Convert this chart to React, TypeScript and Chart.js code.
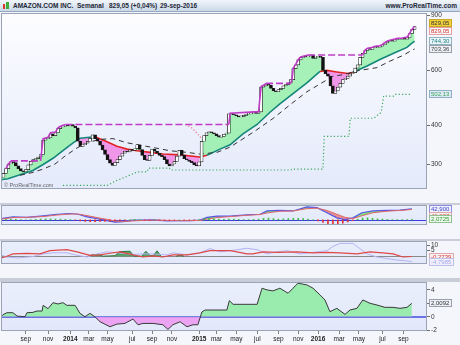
import React, { useEffect, useRef } from "react";
import { Chart, registerables } from "chart.js";

Chart.register(...registerables);
Chart.defaults.font.family = "'Liberation Sans', Arial, sans-serif";

// ---------- weekly closes (Jul 2013 .. 29 Sep 2016) ----------
const closes = [
  272, 280, 290, 300, 305, 303, 296, 290, 285, 283,
  288, 298, 306, 310, 312, 316, 322, 358, 362, 364,
  375, 370, 378, 390, 395, 397, 400, 398, 402, 397,
  392, 355, 342, 346, 350, 355, 363, 372, 362, 355,
  345, 333, 322, 310, 302, 297, 303, 310, 318, 325,
  330, 328, 333, 332, 336, 346, 334, 320, 310, 308,
  320, 335, 330, 325, 320, 317, 310, 300, 296, 300,
  306, 318, 332, 320, 312, 309, 306, 303, 298, 296,
  305, 355, 370, 378, 380, 378, 375, 370, 366, 368,
  374, 377, 435, 434, 432, 428, 425, 426, 430, 434,
  435, 438, 440, 436, 441, 530, 535, 542, 538, 525,
  516, 512, 520, 525, 535, 540, 547, 560, 608, 625,
  648, 660, 664, 662, 668, 670, 655, 662, 664, 660,
  600, 585, 575, 535, 506, 515, 530, 545, 560, 565,
  575, 585, 590, 610, 625, 660, 680, 695, 705, 700,
  710, 715, 712, 718, 725, 735, 744, 748, 745, 754,
  758, 755, 760, 756, 765, 788, 812, 829,
];

// moving average (teal above / red below)
const maX = [0, 2.8, 8.9, 12.9, 17, 21, 25, 29.1, 31.9, 34.7, 37.9, 42.8, 46.8, 50.9, 54.9, 60.2, 65.4, 72.3, 80.3, 83.2, 88.4, 92.5, 97.7, 103.4, 108.6, 112.6, 117.9, 123.5, 128.8, 131.6, 135.6, 140.1, 142.1, 147.8, 153, 158.3, 163.9, 166.3, 167];
const maY = [267, 269, 279, 286, 299, 313, 331, 351, 363, 365, 367, 354, 342, 335, 331, 327, 323, 321, 316, 320, 335, 346, 375, 402, 440, 468, 505, 547, 595, 600, 593, 586, 592, 620, 650, 680, 711, 738, 744];
const maRedRanges = [[37.9, 83], [128.8, 141]];

// slower average (black dashed)
const slowX = [7.7, 12.9, 17, 21.8, 25.8, 30.7, 35.1, 40, 45.2, 50.9, 61.4, 68.2, 75.1, 80.3, 87.2, 92.5, 101.7, 109.8, 116.7, 123.5, 134, 138.1, 144.9, 151.8, 157, 162.3, 165.9, 167];
const slowY = [276, 282, 289, 300, 318, 338, 352, 360, 362, 351, 339, 331, 327, 323, 327, 340, 379, 420, 465, 512, 574, 581, 600, 612, 642, 670, 696, 703];

// trailing stop (green dotted)
const stopX = [25, 43, 46, 50, 55, 59, 59.5, 68, 68.5, 117, 117.5, 130, 130.5, 140.5, 141, 150.5, 153.5, 154.5, 158.5, 159, 166];
const stopY = [256, 256, 264, 272, 283, 283, 291, 291, 287, 287, 289, 289, 368, 368, 421, 421, 440, 496, 496, 502, 502];

// red dotted segment
const redDotX = [74.5, 77, 79, 81];
const redDotY = [402, 392, 378, 362];

// highest-high line (magenta)
const highX = [2, 3, 4, 16, 17, 18, 19, 20, 22, 23, 24, 26, 92, 92.5, 104, 105, 106, 107, 117, 117.5, 118, 119, 120, 121, 122, 124, 146, 146.5, 147, 148, 150, 151, 153, 154, 155, 156, 157, 159, 160, 162, 164, 165, 166, 167];
const highY = [290, 300, 307, 307, 362, 364, 366, 378, 380, 392, 397, 402, 402, 437, 442, 532, 537, 545, 545, 562, 610, 627, 650, 662, 666, 672, 672, 682, 697, 707, 712, 717, 720, 727, 737, 746, 750, 756, 760, 762, 767, 790, 814, 832];

// MACD panel
const macdX = [0, 4.8, 10.5, 17, 22.6, 27.9, 31.1, 34.7, 38.8, 42.8, 46, 49.3, 53.3, 57.3, 61.4, 67, 71.1, 76.3, 80.3, 83.2, 87.2, 92.5, 99.3, 104.6, 107.4, 112.6, 117.9, 123.5, 127.6, 131.6, 135.6, 138.9, 142.1, 145.7, 150.2, 155.8, 161.1, 165.9];
const macdV = [4.6, 12, 10, 16, 22, 25, 22, 12, 4.6, -3, -9, -7, -1, -1, 0, -4, -3, -3, -1, 10, 14.5, 15, 20, 22, 35, 37.5, 35, 51, 48, 28, 8, 1, 8, 28, 35, 37, 38, 42.9];
const signalV = [3, 9, 10, 13, 19, 23, 23, 17, 9, 2, -4, -6, -4, -2, -1, -2, -3, -3, -2, 3, 9, 13, 18, 21, 27, 34, 35, 44, 46, 37, 22, 10, 5, 16, 28, 34, 37, 40.8];
const HIST_STEP = 2; // one bar every two weeks
const histV = [
  1, 2, 3, 2, 1, 0, 1, 2, 3, 4,
  4, 3, 3, 2, 1, -1, -4, -6, -7, -7,
  -6, -6, -5, -4, -2, -1, 1, 2, 1, -1,
  -1, 0, -1, -2, -2, -1, 0, -1, -1, -1,
  1, 4, 5, 4, 3, 2, 3, 3, 2, 1,
  1, 2, 3, 6, 7, 5, 3, 4, 5, 6,
  6, 5, 3, 0, -4, -10, -15, -19, -17, -13,
  -8, -3, 3, 7, 8, 6, 4, 3, 2, 1,
  1, 1, 1, 2,
];

// third panel
const redX = [0, 1.6, 4.8, 10.5, 15.7, 19.8, 26.6, 30.7, 35.9, 40, 44, 48, 53.3, 57.3, 61.4, 65.4, 69.4, 75.1, 80.3, 84.4, 92.5, 95.3, 99.3, 101.7, 105.8, 111.4, 119.5, 126, 131.6, 136.9, 143.7, 149, 154.2, 158.3, 162.3, 165.9];
const redV = [-1.6, -0.7, 2.1, 2.5, 2.1, 5, 5.9, 4, 0.8, 1.2, 2.7, 4, 1.2, -0.7, 0.3, -0.7, 1.2, 1.2, 3.1, 5, 5, 4, 2.1, 2.1, 4, 3.5, 4, 3, 3.5, 3, 2.1, 4, 3, 2.1, -0.7, -0.27];
const lavX = [0, 2.4, 6.5, 12.9, 17, 21, 26.6, 30.7, 34.7, 38.8, 42.8, 46.8, 53.3, 57.3, 61.4, 67, 69.4, 75.1, 80.3, 84.4, 88.4, 92.5, 95.3, 99.3, 103.4, 107.4, 111.4, 115.5, 120.7, 126, 131.6, 134, 136.9, 142.1, 144.9, 147.8, 151.8, 155.8, 159.9, 163.9, 165.9];
const lavV = [1.2, -0.7, -1.6, -0.3, 2.1, 3.1, 3.1, 0.8, -0.7, 2.1, 4, 3.1, 1.6, 2.1, 2.1, 1.2, 3.1, 1.2, 3.1, 6.9, 4, 5, 5.9, 7.2, 5.9, 2.1, 4, 5, 2.1, 3.5, 5, 8.8, 11.6, 11.6, 6.9, 2.1, -0.7, -2.1, -3.5, -4.3, -4.8];
const bandX = [35.1, 37.1, 39.6, 41.2, 46, 48, 52.1, 53.7, 56.9, 58.5, 60.2, 61.4, 63, 64.6, 67, 70.7, 72.3, 73.9];
const bandV = [0, 1.5, 1.2, 0, 0.5, 4.2, 4.5, 0, 0, 4.5, 0.5, 0.5, 4.9, 0, null, 0, 1, 0];

// bottom oscillator
const oscX = [0, 0.8, 2.4, 4.8, 6.5, 9.7, 10.5, 12.9, 14.5, 16.6, 17, 19, 21, 23, 25, 26.6, 29.9, 31.9, 33.9, 35.9, 37.9, 40, 44, 46.8, 50, 53.3, 55.3, 57.3, 61.4, 65.4, 67.4, 69.4, 72.3, 75.1, 77.5, 79.5, 81.1, 82.4, 91.2, 92.2, 93.7, 103.4, 105.4, 107.4, 109.8, 112.6, 115.9, 117.9, 119.9, 123.5, 126, 128.8, 130.8, 132.8, 135.6, 138.9, 140.9, 143.7, 146.1, 149, 151.8, 155, 158.3, 161.1, 163.9, 165.9];
const oscV = [0, 0.3, 0.6, 0.6, 0.1, 0, 0.6, 0.65, 0.85, 0.85, 1.7, 1.2, 2.1, 1.9, 2.1, 1.7, 1.7, 0.5, 0, 0.5, 0, -0.75, -1.5, -1.1, -1.0, -0.35, -1.2, -1.0, -1.0, -1.2, -1.9, -1.2, -0.75, -1.5, -1.2, -1.2, 0.7, 1.0, 1.0, 2.4, 1.85, 1.85, 4.25, 4.0, 3.85, 4.25, 3.5, 4.25, 5.0, 4.75, 4.25, 3.25, 2.5, 0.75, 1.25, 0.35, 1.0, 1.25, 2.5, 2.0, 1.75, 1.4, 1.4, 1.25, 1.4, 2.0];

// time axis
const tickPos = [10, 19, 28, 35.5, 43, 53, 61, 69, 80, 87, 95, 103.5, 112, 120, 128, 136.5, 144.5, 154, 162.5];
const tickLabels = ["sep", "nov", "2014", "mar", "may", "jul", "sep", "nov", "2015", "mar", "may", "jul", "sep", "nov", "2016", "mar", "may", "jul", "sep"];

const priceTicks = [300, 400, 600, 900];
const panel3Ticks = [5, 10];
const panel4Ticks = [-2, 0, 2, 4];

// ---------- layout constants ----------
const W = 460;
const AXIS_W = 33;
const X_MIN = 0;
const X_MAX = 172;

const pts = (xs: number[], ys: (number | null)[]) => xs.map((x, i) => ({ x, y: ys[i] }));

const panelPlugin = {
  id: "panel",
  beforeDraw(chart: any, _a: any, o: any) {
    const { ctx, chartArea: a } = chart;
    ctx.save();
    const g = ctx.createLinearGradient(0, a.top, 0, a.bottom);
    g.addColorStop(0, o.bgTop);
    g.addColorStop(1, o.bgBottom);
    ctx.fillStyle = g;
    ctx.fillRect(a.left, a.top, a.right - a.left, a.bottom - a.top);
    ctx.restore();
  },
  beforeDatasetsDraw(chart: any, _a: any, o: any) {
    const { ctx, chartArea: a, scales } = chart;
    (o.baselines || []).forEach((b: any) => {
      const y = Math.round(scales.y.getPixelForValue(b.value)) + (b.width % 2 ? 0.5 : 0);
      ctx.save();
      ctx.strokeStyle = b.color;
      ctx.lineWidth = b.width;
      ctx.beginPath();
      ctx.moveTo(a.left, y);
      ctx.lineTo(a.right, y);
      ctx.stroke();
      ctx.restore();
    });
  },
  afterDraw(chart: any, _a: any, o: any) {
    const { ctx, chartArea: a, scales } = chart;
    ctx.save();
    ctx.strokeStyle = "#9ba3b6";
    ctx.lineWidth = 1;
    ctx.strokeRect(a.left + 0.5, a.top + 0.5, a.right - a.left - 1, a.bottom - a.top - 1);
    if (o.watermark) {
      ctx.fillStyle = "#666";
      ctx.font = "5.5px 'Liberation Sans', Arial";
      ctx.textBaseline = "alphabetic";
      ctx.textAlign = "left";
      ctx.fillText(o.watermark, a.left + 3, a.bottom - 2);
    }
    ctx.font = "6px 'Liberation Sans', Arial";
    ctx.textBaseline = "middle";
    ctx.textAlign = "left";
    (o.boxes || []).forEach((b: any) => {
      const y = Math.round(scales.y.getPixelForValue(b.value) + (b.dy || 0));
      const w = Math.ceil(ctx.measureText(b.text).width) + 4;
      const x = a.right + 2;
      ctx.fillStyle = b.bg;
      ctx.fillRect(x, y - 4, w, 8);
      ctx.strokeStyle = b.border;
      ctx.strokeRect(x + 0.5, y - 3.5, w - 1, 7);
      ctx.fillStyle = b.fg;
      ctx.fillText(b.text, x + 2, y + 0.5);
    });
    ctx.restore();
  },
};

function xAxis(show: boolean) {
  return {
    type: "linear",
    min: X_MIN,
    max: X_MAX,
    offset: false,
    display: show,
    grid: { drawOnChartArea: false, drawTicks: true, tickLength: 3, color: "#808080" },
    border: { display: false },
    afterBuildTicks: (s: any) => {
      s.ticks = tickPos.map((v) => ({ value: v }));
    },
    afterFit: (s: any) => {
      s.height = 14;
      s.paddingLeft = 0;
      s.paddingRight = 0;
    },
    ticks: {
      autoSkip: false,
      maxRotation: 0,
      padding: 1,
      color: "#222",
      font: (c: any) => ({ size: 6.5, weight: /^\d{4}$/.test(tickLabels[c.index] || "") ? "bold" : "normal" }),
      callback: (_v: any, i: number) => tickLabels[i],
    },
  };
}

function yAxis(type: string, min: number, max: number, ticks: number[] | null) {
  if (!ticks) return { type, min, max, display: false };
  return {
    type,
    position: "right",
    min,
    max,
    afterBuildTicks: (s: any) => {
      s.ticks = ticks.map((v) => ({ value: v }));
    },
    afterFit: (s: any) => {
      s.width = AXIS_W;
      s.paddingTop = 0;
      s.paddingBottom = 0;
    },
    grid: { drawOnChartArea: false, drawTicks: true, tickLength: 3, color: "#707070" },
    border: { display: false },
    ticks: { color: "#333", padding: 1, font: { size: 6.5 }, callback: (v: any) => String(v) },
  };
}

function baseOptions(padding: any, scales: any, panel: any) {
  return {
    responsive: false,
    animation: false,
    events: [],
    layout: { padding },
    plugins: { legend: { display: false }, tooltip: { enabled: false }, panel },
    scales,
  };
}

const inRanges = (x: number, ranges: number[][]) => ranges.some(([a, b]) => x >= a && x <= b);

function mainConfig(): any {
  const candles = closes.map((c, i) => ({ x: i, y: [i ? closes[i - 1] : c, c] }));
  const candleColors = closes.map((c, i) => (i && c < closes[i - 1] ? "#111" : "#fff"));
  return {
    type: "line",
    data: {
      datasets: [
        {
          data: closes.map((c, i) => ({ x: i, y: c })),
          borderWidth: 0,
          borderColor: "transparent",
          pointRadius: 0,
          fill: { target: 1, above: "rgba(150,240,170,0.85)", below: "rgba(240,128,228,0.8)" },
          order: 10,
        },
        {
          data: pts(maX, maY),
          borderWidth: 1.6,
          borderColor: "#14867a",
          pointRadius: 0,
          fill: false,
          segment: { borderColor: (c: any) => (inRanges(c.p0.parsed.x, maRedRanges) ? "#e22424" : undefined) },
          order: 8,
        },
        {
          data: pts(slowX, slowY),
          borderWidth: 1,
          borderColor: "#333",
          borderDash: [5, 4],
          pointRadius: 0,
          fill: false,
          order: 7,
        },
        {
          data: pts(stopX, stopY),
          borderWidth: 1.2,
          borderColor: "#3aa85a",
          borderDash: [1.2, 2.2],
          pointRadius: 0,
          fill: false,
          order: 6,
        },
        {
          data: pts(redDotX, redDotY),
          borderWidth: 1.2,
          borderColor: "#f07070",
          borderDash: [1.2, 2],
          pointRadius: 0,
          fill: false,
          order: 6,
        },
        {
          type: "bar",
          data: candles,
          backgroundColor: candleColors,
          borderColor: "#1a1a1a",
          borderWidth: 0.7,
          borderSkipped: false,
          barThickness: 3,
          minBarLength: 1,
          grouped: false,
          order: 5,
        },
        {
          data: pts(highX, highY),
          borderWidth: 1.6,
          borderColor: "#c03cc8",
          pointRadius: 0,
          fill: false,
          segment: {
            borderDash: (c: any) => (Math.abs(c.p0.parsed.y - c.p1.parsed.y) < 0.01 ? [7, 3] : undefined),
          },
          order: 4,
        },
      ],
    },
    options: baseOptions(
      { left: 1, right: 0, top: 1, bottom: 1 },
      { x: xAxis(false), y: yAxis("logarithmic", 249.4, 917, priceTicks) },
      {
        bgTop: "#fdfdff",
        bgBottom: "#e4eafb",
        watermark: "© ProRealTime.com",
        boxes: [
          { value: 829.05, dy: -4, text: "829,05", bg: "#f2cf3c", fg: "#333", border: "#c9a826" },
          { value: 829.05, dy: 4, text: "829,05", bg: "#f5f6fa", fg: "#e03030", border: "#e4a0a0" },
          { value: 744.3, text: "744,30", bg: "#edf3f8", fg: "#178a84", border: "#8fb3c0" },
          { value: 703.36, text: "703,36", bg: "#eef0f5", fg: "#444", border: "#9aa0aa" },
          { value: 502.13, text: "502,13", bg: "#dde8f4", fg: "#3aa85a", border: "#8fb0c8" },
        ],
      }
    ),
    plugins: [panelPlugin],
  };
}

function macdConfig(): any {
  const hist = histV.map((v, k) => ({ x: k * HIST_STEP, y: v }));
  return {
    type: "line",
    data: {
      datasets: [
        {
          data: pts(macdX, macdV),
          borderWidth: 1.2,
          borderColor: "#5656e6",
          pointRadius: 0,
          fill: { target: 1, above: "rgba(110,222,110,0.85)", below: "rgba(232,120,120,0.8)" },
          order: 5,
        },
        {
          data: pts(macdX, signalV),
          borderWidth: 1,
          borderColor: "#e06868",
          pointRadius: 0,
          fill: false,
          order: 4,
        },
        {
          type: "bar",
          data: hist,
          backgroundColor: histV.map((v) => (v >= 0 ? "#3fbf3f" : "#e03232")),
          barThickness: 1,
          grouped: false,
          order: 3,
        },
      ],
    },
    options: baseOptions(
      { left: 1, right: AXIS_W, top: 1, bottom: 1 },
      { x: xAxis(false), y: yAxis("linear", -20, 58.3, null) },
      {
        bgTop: "#eaeffc",
        bgBottom: "#e2e8fa",
        baselines: [{ value: 0, color: "#3c3ce0", width: 1 }],
        boxes: [
          { value: 42.9, text: "42,900", bg: "#eef0fb", fg: "#4040d0", border: "#8c8ce0" },
          { value: 40.827, dy: 7, text: "40,827", bg: "#f6f2f4", fg: "#e05050", border: "#e0a8a8" },
          { value: 2.0725, text: "2,0725", bg: "#eef6ee", fg: "#2f9f2f", border: "#8fc08f" },
        ],
      }
    ),
    plugins: [panelPlugin],
  };
}

function panel3Config(): any {
  return {
    type: "line",
    data: {
      datasets: [
        {
          data: pts(bandX, bandV),
          borderWidth: 1,
          borderColor: "#2d7a3d",
          pointRadius: 0,
          spanGaps: false,
          fill: { target: "origin", above: "rgba(60,150,80,0.85)", below: "rgba(60,150,80,0.85)" },
          order: 6,
        },
        {
          data: pts(lavX, lavV),
          borderWidth: 1,
          borderColor: "#b4b4f2",
          pointRadius: 0,
          fill: false,
          order: 5,
        },
        {
          data: pts(redX, redV),
          borderWidth: 1.2,
          borderColor: "#e04848",
          pointRadius: 0,
          fill: false,
          order: 4,
        },
      ],
    },
    options: baseOptions(
      { left: 1, right: 0, top: 1, bottom: 1 },
      { x: xAxis(false), y: yAxis("linear", -7.06, 13.8, panel3Ticks) },
      {
        bgTop: "#eaeffc",
        bgBottom: "#e2e8fa",
        baselines: [{ value: 0, color: "#8a8a8a", width: 1 }],
        boxes: [
          { value: -0.2739, text: "-0,2739", bg: "#f6f2f4", fg: "#e03030", border: "#e0a8a8" },
          { value: -4.7985, text: "-4,7985", bg: "#f0f0fa", fg: "#a8a8ee", border: "#c0c0ee" },
        ],
      }
    ),
    plugins: [panelPlugin],
  };
}

function panel4Config(): any {
  return {
    type: "line",
    data: {
      datasets: [
        {
          data: pts(oscX, oscV),
          borderWidth: 1,
          borderColor: "#3a3a3a",
          pointRadius: 0,
          fill: { target: "origin", above: "rgba(140,235,160,0.85)", below: "rgba(236,150,240,0.85)" },
        },
      ],
    },
    options: baseOptions(
      { left: 1, right: 0, top: 1, bottom: 0 },
      { x: xAxis(true), y: yAxis("linear", -2.13, 5.18, panel4Ticks) },
      {
        bgTop: "#eaeffc",
        bgBottom: "#e2e8fa",
        baselines: [{ value: 0, color: "#6b74e6", width: 2 }],
        boxes: [{ value: 2.0092, text: "2,0092", bg: "#eef0f6", fg: "#333", border: "#9aa0b0" }],
      }
    ),
    plugins: [panelPlugin],
  };
}

function ChartCanvas({ top, height, make }: { top: number; height: number; make: () => any }) {
  const ref = useRef<HTMLCanvasElement>(null);
  useEffect(() => {
    const chart = new Chart(ref.current as HTMLCanvasElement, make());
    return () => chart.destroy();
  }, []);
  return (
    <canvas
      ref={ref}
      width={W}
      height={height}
      style={{ position: "absolute", left: 0, top, width: W, height, display: "block" }}
    />
  );
}

function Header() {
  const font = "'Liberation Sans', Arial, sans-serif";
  const txt: React.CSSProperties = { position: "absolute", top: 0, lineHeight: "11px", fontSize: 6.5, fontWeight: "bold", color: "#1d2736", fontFamily: font, whiteSpace: "pre" };
  return (
    <div
      style={{
        position: "absolute",
        left: 0,
        top: 0,
        width: W,
        height: 12,
        boxSizing: "border-box",
        background: "linear-gradient(#f2f6fb, #cbd8e8)",
        borderBottom: "1px solid #93a6bd",
      }}
    >
      <div style={{ position: "absolute", left: 3, top: 4, width: 2, height: 5, background: "#d23a2a" }} />
      <div style={{ position: "absolute", left: 6, top: 2, width: 3, height: 7, background: "#3cae3c" }} />
      <span style={{ ...txt, left: 13 }}>AMAZON.COM INC.</span>
      <span style={{ ...txt, left: 77 }}>Semanal</span>
      <span style={{ ...txt, left: 109 }}>829,05 (+0,04%)</span>
      <span style={{ ...txt, left: 160 }}>29-sep-2016</span>
      <span style={{ ...txt, right: 3 }}>www.ProRealTime.com</span>
    </div>
  );
}

export default function App() {
  const band = (top: number, h: number) => (
    <div style={{ position: "absolute", left: 0, top, width: W, height: h, background: "#c8cdd7" }} />
  );
  return (
    <div style={{ position: "fixed", left: 0, top: 0, width: W, height: 345, overflow: "hidden", background: "#f4f6fb" }}>
      <Header />
      {band(203, 2)}
      {band(239, 2)}
      {band(278, 4)}
      <ChartCanvas top={12} height={192} make={mainConfig} />
      <ChartCanvas top={204} height={36} make={macdConfig} />
      <ChartCanvas top={240} height={39} make={panel3Config} />
      <ChartCanvas top={281} height={64} make={panel4Config} />
    </div>
  );
}
